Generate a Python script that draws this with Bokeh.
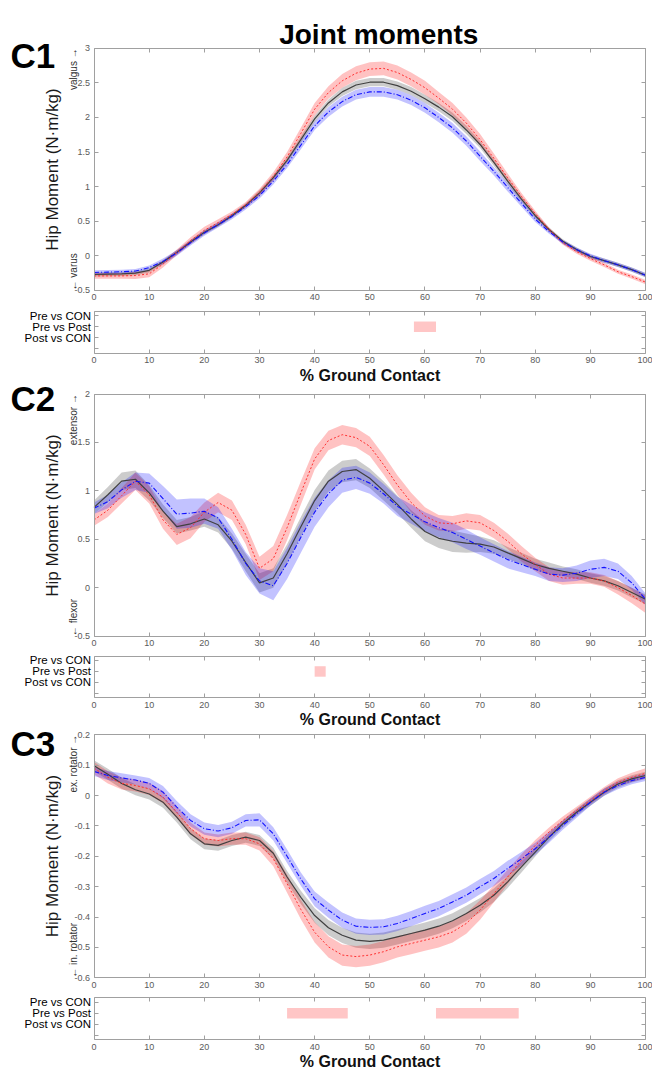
from math import pi
from bokeh.plotting import figure
from bokeh.models import Range1d, LinearAxis, FixedTicker, CustomJSTickFormatter, Label
from bokeh.embed import file_html
from bokeh.resources import INLINE

# ---------------- data ----------------
x_pct = [0, 2.5, 5, 7.5, 10, 12.5, 15, 17.5, 20, 22.5,
         25, 27.5, 30, 32.5, 35, 37.5, 40, 42.5, 45, 47.5,
         50, 52.5, 55, 57.5, 60, 62.5, 65, 67.5, 70, 72.5,
         75, 77.5, 80, 82.5, 85, 87.5, 90, 92.5, 95, 97.5, 100]
x_ticks = [0, 10, 20, 30, 40, 50, 60, 70, 80, 90, 100]
sig_rows = ["Pre vs CON", "Pre vs Post", "Post vs CON"]

# C1 - frontal plane (valgus / varus)
c1_con = [-0.27, -0.265, -0.26, -0.25, -0.21, -0.09, 0.05, 0.20, 0.34, 0.45,
          0.58, 0.73, 0.91, 1.13, 1.38, 1.68, 1.98, 2.21, 2.37, 2.47,
          2.51, 2.51, 2.46, 2.38, 2.27, 2.15, 2.01, 1.82, 1.61, 1.35,
          1.08, 0.82, 0.58, 0.38, 0.21, 0.09, -0.01, -0.07, -0.13, -0.20, -0.28]
c1_con_sd = [0.03, 0.03, 0.03, 0.03, 0.03, 0.03, 0.03, 0.03, 0.03, 0.03,
             0.03, 0.03, 0.04, 0.04, 0.04, 0.05, 0.05, 0.05, 0.06, 0.06,
             0.06, 0.06, 0.06, 0.06, 0.06, 0.06, 0.06, 0.06, 0.05, 0.05,
             0.05, 0.04, 0.04, 0.03, 0.03, 0.03, 0.03, 0.03, 0.03, 0.03, 0.03]
c1_pre = [-0.29, -0.29, -0.29, -0.285, -0.26, -0.12, 0.05, 0.22, 0.37, 0.48,
          0.60, 0.74, 0.92, 1.15, 1.43, 1.77, 2.12, 2.36, 2.53, 2.64,
          2.70, 2.71, 2.65, 2.55, 2.43, 2.28, 2.12, 1.92, 1.68, 1.41,
          1.13, 0.86, 0.61, 0.38, 0.19, 0.06, -0.04, -0.13, -0.23, -0.30, -0.38]
c1_pre_sd = [0.04, 0.04, 0.04, 0.05, 0.05, 0.05, 0.04, 0.05, 0.05, 0.05,
             0.04, 0.04, 0.05, 0.06, 0.07, 0.08, 0.09, 0.09, 0.10, 0.10,
             0.10, 0.10, 0.10, 0.10, 0.10, 0.09, 0.09, 0.08, 0.08, 0.07,
             0.06, 0.05, 0.04, 0.03, 0.03, 0.03, 0.03, 0.03, 0.03, 0.03, 0.03]
c1_post = [-0.24, -0.235, -0.23, -0.22, -0.17, -0.08, 0.04, 0.19, 0.33, 0.45,
           0.57, 0.71, 0.87, 1.08, 1.32, 1.60, 1.88, 2.08, 2.23, 2.33,
           2.37, 2.37, 2.33, 2.25, 2.14, 2.00, 1.85, 1.66, 1.44, 1.22,
           0.99, 0.76, 0.53, 0.35, 0.20, 0.09, 0.00, -0.07, -0.13, -0.20, -0.28]
c1_post_sd = [0.03, 0.03, 0.03, 0.03, 0.03, 0.04, 0.04, 0.04, 0.04, 0.04,
              0.04, 0.04, 0.04, 0.05, 0.05, 0.06, 0.06, 0.07, 0.07, 0.07,
              0.07, 0.07, 0.07, 0.07, 0.07, 0.07, 0.07, 0.07, 0.07, 0.06,
              0.06, 0.05, 0.04, 0.03, 0.03, 0.03, 0.03, 0.03, 0.03, 0.03, 0.03]

# C2 - sagittal plane (extensor / flexor)
c2_con = [0.83, 0.96, 1.10, 1.12, 0.98, 0.79, 0.63, 0.66, 0.71, 0.65,
          0.48, 0.26, 0.05, 0.10, 0.35, 0.63, 0.90, 1.10, 1.20, 1.22,
          1.13, 1.00, 0.86, 0.71, 0.58, 0.51, 0.48, 0.46, 0.45, 0.42,
          0.36, 0.30, 0.24, 0.20, 0.17, 0.14, 0.10, 0.07, 0.02, -0.05, -0.12]
c2_con_sd = [0.07, 0.08, 0.09, 0.09, 0.08, 0.07, 0.07, 0.07, 0.08, 0.08,
             0.08, 0.09, 0.10, 0.10, 0.10, 0.10, 0.11, 0.11, 0.11, 0.11,
             0.10, 0.10, 0.09, 0.09, 0.10, 0.10, 0.11, 0.10, 0.08, 0.07,
             0.06, 0.06, 0.06, 0.06, 0.05, 0.05, 0.05, 0.05, 0.05, 0.05, 0.05]
c2_pre = [0.70, 0.80, 0.95, 1.10, 0.96, 0.70, 0.55, 0.62, 0.78, 0.88,
          0.80, 0.55, 0.20, 0.30, 0.62, 0.98, 1.33, 1.52, 1.58, 1.55,
          1.46, 1.27, 1.06, 0.88, 0.74, 0.67, 0.66, 0.69, 0.67, 0.59,
          0.48, 0.35, 0.24, 0.14, 0.10, 0.10, 0.10, 0.07, 0.00, -0.08, -0.17]
c2_pre_sd = [0.06, 0.07, 0.08, 0.09, 0.09, 0.09, 0.11, 0.11, 0.10, 0.10,
             0.10, 0.10, 0.12, 0.13, 0.13, 0.12, 0.11, 0.10, 0.10, 0.10,
             0.10, 0.10, 0.10, 0.10, 0.09, 0.08, 0.08, 0.08, 0.08, 0.08,
             0.08, 0.08, 0.07, 0.07, 0.07, 0.06, 0.06, 0.06, 0.07, 0.08, 0.09]
c2_post = [0.82, 0.89, 1.01, 1.10, 1.08, 0.92, 0.76, 0.77, 0.79, 0.72,
           0.50, 0.25, 0.07, 0.02, 0.25, 0.52, 0.78, 0.97, 1.11, 1.14,
           1.08, 0.97, 0.84, 0.76, 0.68, 0.62, 0.57, 0.50, 0.43, 0.36,
           0.29, 0.24, 0.19, 0.14, 0.13, 0.15, 0.19, 0.21, 0.17, 0.05, -0.12]
c2_post_sd = [0.06, 0.07, 0.08, 0.09, 0.10, 0.13, 0.15, 0.15, 0.13, 0.11,
              0.11, 0.12, 0.13, 0.15, 0.16, 0.16, 0.15, 0.14, 0.13, 0.12,
              0.11, 0.10, 0.10, 0.10, 0.10, 0.10, 0.10, 0.10, 0.09, 0.09,
              0.09, 0.08, 0.07, 0.07, 0.07, 0.08, 0.09, 0.09, 0.08, 0.07, 0.06]

# C3 - transverse plane (ex. rotator / in. rotator)
c3_con = [0.098, 0.070, 0.040, 0.019, 0.005, -0.022, -0.071, -0.126, -0.159, -0.164,
          -0.148, -0.137, -0.148, -0.190, -0.268, -0.335, -0.395, -0.435, -0.460, -0.476,
          -0.480, -0.476, -0.465, -0.454, -0.443, -0.430, -0.412, -0.388, -0.361, -0.328,
          -0.284, -0.235, -0.186, -0.137, -0.093, -0.055, -0.022, 0.011, 0.038, 0.055, 0.066]
c3_con_sd = [0.018, 0.018, 0.018, 0.018, 0.018, 0.018, 0.018, 0.018, 0.018, 0.018,
             0.018, 0.018, 0.018, 0.018, 0.020, 0.022, 0.024, 0.025, 0.025, 0.025,
             0.025, 0.025, 0.025, 0.025, 0.025, 0.025, 0.025, 0.025, 0.024, 0.022,
             0.020, 0.018, 0.015, 0.013, 0.012, 0.012, 0.012, 0.012, 0.012, 0.012, 0.012]
c3_pre = [0.090, 0.060, 0.040, 0.033, 0.022, -0.005, -0.055, -0.109, -0.142, -0.148,
          -0.142, -0.142, -0.159, -0.208, -0.290, -0.375, -0.450, -0.498, -0.525, -0.530,
          -0.525, -0.514, -0.498, -0.487, -0.476, -0.465, -0.449, -0.421, -0.377, -0.323,
          -0.268, -0.213, -0.164, -0.120, -0.082, -0.049, -0.016, 0.016, 0.044, 0.060, 0.073]
c3_pre_sd = [0.020, 0.020, 0.020, 0.020, 0.020, 0.020, 0.020, 0.020, 0.020, 0.020,
             0.020, 0.020, 0.022, 0.025, 0.030, 0.032, 0.034, 0.035, 0.035, 0.035,
             0.035, 0.035, 0.035, 0.035, 0.035, 0.035, 0.035, 0.034, 0.032, 0.028,
             0.024, 0.020, 0.018, 0.015, 0.013, 0.012, 0.012, 0.012, 0.013, 0.015, 0.017]
c3_post = [0.079, 0.066, 0.058, 0.051, 0.040, 0.011, -0.038, -0.082, -0.109, -0.117,
           -0.106, -0.082, -0.080, -0.126, -0.200, -0.275, -0.340, -0.377, -0.410, -0.430,
           -0.434, -0.432, -0.421, -0.405, -0.388, -0.372, -0.350, -0.328, -0.300, -0.273,
           -0.240, -0.208, -0.175, -0.137, -0.098, -0.060, -0.022, 0.011, 0.033, 0.049, 0.060]
c3_post_sd = [0.015, 0.015, 0.015, 0.015, 0.018, 0.020, 0.020, 0.020, 0.020, 0.020,
              0.020, 0.020, 0.022, 0.022, 0.022, 0.022, 0.024, 0.025, 0.025, 0.025,
              0.025, 0.025, 0.025, 0.025, 0.025, 0.025, 0.025, 0.025, 0.025, 0.025,
              0.025, 0.022, 0.020, 0.018, 0.015, 0.013, 0.012, 0.012, 0.012, 0.012, 0.012]

# significant clusters: start %, end %, row (1 = Pre vs CON, 2 = Pre vs Post, 3 = Post vs CON)
sig1_start, sig1_end, sig1_row = [58], [62], [2]
sig2_start, sig2_end, sig2_row = [40], [42], [2]
sig3_start, sig3_end, sig3_row = [35, 62], [46, 77], [2, 2]

# ---------------- layout (reference page pixels) ----------------
W, H = 652, 1071          # canvas size (a little inside the 655x1075 window)
REF_W, REF_H = 655, 1075  # reference page size the positions below refer to
X0, X1 = 94, 648          # page x of 0 % and 100 %
PPX = (X1 - X0) / 100.0
FONT = "Liberation Sans"
AXC = "#a0a0a0"


def xd(px):
    return (px - X0) / PPX


def yr(v_top, v_bot, p_top, p_bot):
    ppu = (p_bot - p_top) / (v_top - v_bot)
    return Range1d(start=v_bot - (REF_H - p_bot) / ppu, end=v_top + p_top / ppu)


p = figure(width=W, height=H, x_range=Range1d(xd(0), xd(REF_W)), y_range=Range1d(REF_H, 0),
           x_axis_location=None, y_axis_location=None,
           output_backend="svg", toolbar_location=None,
           min_border=0, min_border_left=0, min_border_right=0,
           min_border_top=0, min_border_bottom=0)
p.outline_line_color = None
p.grid.visible = False
p.background_fill_color = "white"
p.border_fill_color = "white"

panels = {
    "c1": (3, -0.5, 48, 291),
    "s1": (0.6, 4.4, 312, 354),
    "c2": (2, -0.5, 395, 638),
    "s2": (0.6, 4.4, 658, 700),
    "c3": (0.2, -0.6, 737, 981),
    "s3": (0.6, 4.4, 1001, 1043),
}
p.extra_y_ranges = {k: yr(*v) for k, v in panels.items()}


def style_axis(ax, ticks, show, size="9px", color="#5a5a5a"):
    ax.ticker = FixedTicker(ticks=ticks)
    ax.axis_line_color = AXC
    ax.major_tick_line_color = AXC
    ax.major_tick_in = 4
    ax.major_tick_out = 0
    ax.minor_tick_line_color = None
    ax.major_label_text_font = FONT
    ax.major_label_text_color = color
    ax.major_label_text_font_size = size
    ax.major_label_standoff = 4
    if not show:
        ax.formatter = CustomJSTickFormatter(code="return '';")


def box_axes(name, yticks, main):
    v_top, v_bot = panels[name][0], panels[name][1]
    lo, hi = min(v_top, v_bot), max(v_top, v_bot)
    left = LinearAxis(y_range_name=name, fixed_location=0, bounds=(lo, hi))
    if main:
        style_axis(left, yticks, True)
        left.formatter = CustomJSTickFormatter(code="return String(Math.round(tick*100)/100);")
        left.axis_label = "Hip Moment (N·m/kg)"
        left.axis_label_text_font = FONT
        left.axis_label_text_font_size = "17px"
        left.axis_label_text_font_style = "normal"
        left.axis_label_text_color = "#1a1a1a"
        left.axis_label_standoff = 10
    else:
        style_axis(left, yticks, True, size="11.5px", color="#000000")
        left.major_label_standoff = 3
        left.formatter = CustomJSTickFormatter(
            args=dict(names=sig_rows),
            code="return (tick >= 1 && tick <= names.length) ? names[tick - 1] : '';")
    p.add_layout(left, "left")

    right = LinearAxis(y_range_name=name, fixed_location=100, bounds=(lo, hi))
    style_axis(right, yticks, False)
    p.add_layout(right, "right")

    bottom = LinearAxis(y_range_name=name, fixed_location=v_bot, bounds=(0, 100))
    style_axis(bottom, x_ticks, True)
    if not main:
        bottom.axis_label = "% Ground Contact"
        bottom.axis_label_text_font = FONT
        bottom.axis_label_text_font_size = "16px"
        bottom.axis_label_text_font_style = "bold"
        bottom.axis_label_text_color = "#111111"
        bottom.axis_label_standoff = 0
    p.add_layout(bottom, "below")

    top = LinearAxis(y_range_name=name, fixed_location=v_top, bounds=(0, 100))
    style_axis(top, x_ticks, False)
    p.add_layout(top, "above")


def main_panel(name, yticks, con, con_sd, pre, pre_sd, post, post_sd, up_txt, dn_txt):
    for mean, sd, col, alpha in [(con, con_sd, "#000000", 0.2),
                                 (pre, pre_sd, "#ff0000", 0.24),
                                 (post, post_sd, "#0000ff", 0.24)]:
        lo = [m - s for m, s in zip(mean, sd)]
        hi = [m + s for m, s in zip(mean, sd)]
        p.varea(x=x_pct, y1=lo, y2=hi, fill_color=col, fill_alpha=alpha, y_range_name=name)
    p.line(x_pct, con, line_color="#404040", line_width=1.2, y_range_name=name)
    p.line(x_pct, pre, line_color="#ff3030", line_width=1.0, line_dash="2 2", y_range_name=name)
    p.line(x_pct, post, line_color="#1010ff", line_width=1.1, line_dash="5 2 1 2",
           y_range_name=name)
    box_axes(name, yticks, True)
    v_top, v_bot = panels[name][0], panels[name][1]
    p.add_layout(Label(x=xd(73.5), y=v_top, y_range_name=name, text=up_txt, angle=pi / 2,
                       text_align="right", text_baseline="middle", text_font=FONT,
                       text_font_size="10px", text_color="#333333"))
    p.add_layout(Label(x=xd(73.5), y=v_bot, y_range_name=name, text=dn_txt, angle=pi / 2,
                       text_align="left", text_baseline="middle", text_font=FONT,
                       text_font_size="10px", text_color="#333333"))


def sig_panel(name, starts, ends, rows):
    p.hbar(y=rows, left=starts, right=ends, height=0.95, fill_color="#ffc6c6",
           line_color=None, y_range_name=name)
    box_axes(name, [1, 2, 3, 4], False)


def big_label(x_page, y_page, text, size, align="left"):
    p.add_layout(Label(x=xd(x_page), y=y_page, text=text, text_align=align,
                       text_baseline="alphabetic", text_font=FONT, text_font_size=size,
                       text_font_style="bold", text_color="#000000"))


# ---------------- panels ----------------
main_panel("c1", [-0.5, 0, 0.5, 1, 1.5, 2, 2.5, 3],
           c1_con, c1_con_sd, c1_pre, c1_pre_sd, c1_post, c1_post_sd, "valgus →", "← varus")
sig_panel("s1", sig1_start, sig1_end, sig1_row)
main_panel("c2", [-0.5, 0, 0.5, 1, 1.5, 2],
           c2_con, c2_con_sd, c2_pre, c2_pre_sd, c2_post, c2_post_sd, "extensor →", "← flexor")
sig_panel("s2", sig2_start, sig2_end, sig2_row)
main_panel("c3", [-0.6, -0.5, -0.4, -0.3, -0.2, -0.1, 0, 0.1, 0.2],
           c3_con, c3_con_sd, c3_pre, c3_pre_sd, c3_post, c3_post_sd,
           "ex. rotator →", "← in. rotator")
sig_panel("s3", sig3_start, sig3_end, sig3_row)

big_label(380, 34, "Joint moments", "28px", align="center")
big_label(10, 55, "C1", "35px")
big_label(10, 399, "C2", "35px")
big_label(10, 746, "C3", "35px")

open("out.html", "w").write(file_html(p, INLINE, title="Joint moments"))
